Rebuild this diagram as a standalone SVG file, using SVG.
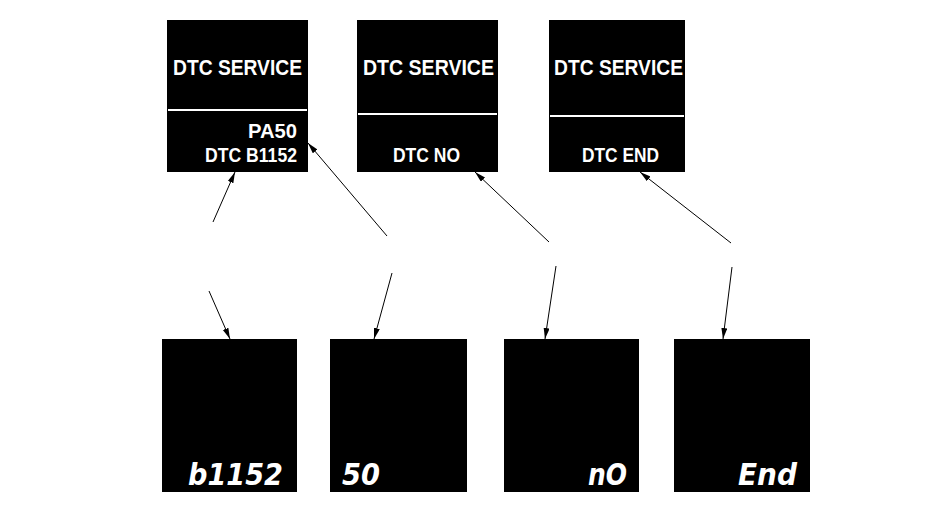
<svg xmlns="http://www.w3.org/2000/svg" width="950" height="511" viewBox="0 0 950 511">
<defs>
<style>
.box{fill:#000}
.sep{stroke:#fff;stroke-width:2}
.t{fill:#fff;font-family:"Liberation Sans",Arial,sans-serif;font-weight:bold;font-size:22px}
.s{fill:#fff;font-family:"Liberation Sans",Arial,sans-serif;font-weight:bold;font-size:20px}
.seg{fill:#fff;font-family:"DejaVu Sans",sans-serif;font-weight:bold;font-style:italic;font-size:30px}
.c{stroke:#000;stroke-width:1;fill:none;marker-end:url(#ah)}
</style>
<marker id="ah" markerUnits="userSpaceOnUse" markerWidth="12" markerHeight="8" refX="11" refY="3" orient="auto">
<path d="M0,0 L11,3 L0,6 z" fill="#000"/>
</marker>
</defs>
<rect width="950" height="511" fill="#fff"/>
<g id="screen1">
<rect class="box" x="167" y="20" width="141" height="152"/>
<line class="sep" x1="168" y1="110" x2="307" y2="110"/>
<text class="t" x="173" y="75" textLength="129" lengthAdjust="spacingAndGlyphs">DTC SERVICE</text>
<text class="s" x="248" y="138" textLength="49" lengthAdjust="spacingAndGlyphs">PA50</text>
<text class="s" x="205" y="162" textLength="92" lengthAdjust="spacingAndGlyphs">DTC B1152</text>
</g>
<g id="screen2">
<rect class="box" x="357" y="20" width="141" height="152"/>
<line class="sep" x1="358" y1="114" x2="497" y2="114"/>
<text class="t" x="363" y="75" textLength="131" lengthAdjust="spacingAndGlyphs">DTC SERVICE</text>
<text class="s" x="393" y="162" textLength="67" lengthAdjust="spacingAndGlyphs">DTC NO</text>
</g>
<g id="screen3">
<rect class="box" x="549" y="20" width="136" height="152"/>
<line class="sep" x1="550" y1="116" x2="684" y2="116"/>
<text class="t" x="554" y="75" textLength="129" lengthAdjust="spacingAndGlyphs">DTC SERVICE</text>
<text class="s" x="582" y="162" textLength="77" lengthAdjust="spacingAndGlyphs">DTC END</text>
</g>
<g id="display1">
<rect class="box" x="162" y="339" width="135" height="153"/>
<text class="seg" x="188" y="485" textLength="95" lengthAdjust="spacingAndGlyphs">b1152</text>
</g>
<g id="display2">
<rect class="box" x="330" y="339" width="137" height="153"/>
<text class="seg" x="342" y="485" textLength="38" lengthAdjust="spacingAndGlyphs">50</text>
</g>
<g id="display3">
<rect class="box" x="504" y="339" width="135" height="153"/>
<text class="seg" x="588" y="485" textLength="39" lengthAdjust="spacingAndGlyphs">nO</text>
</g>
<g id="display4">
<rect class="box" x="674" y="339" width="136" height="153"/>
<text class="seg" x="738" y="485" textLength="59" lengthAdjust="spacingAndGlyphs">End</text>
</g>
<g id="connectors">
<line class="c" x1="213" y1="222" x2="235" y2="172"/>
<line class="c" x1="209" y1="291" x2="230" y2="339"/>
<line class="c" x1="387" y1="236" x2="308" y2="143"/>
<line class="c" x1="392" y1="273" x2="374" y2="339"/>
<line class="c" x1="549" y1="242" x2="475" y2="172"/>
<line class="c" x1="556" y1="266" x2="545" y2="339"/>
<line class="c" x1="731" y1="243" x2="640" y2="172"/>
<line class="c" x1="732" y1="267" x2="723" y2="339"/>
</g>
</svg>
